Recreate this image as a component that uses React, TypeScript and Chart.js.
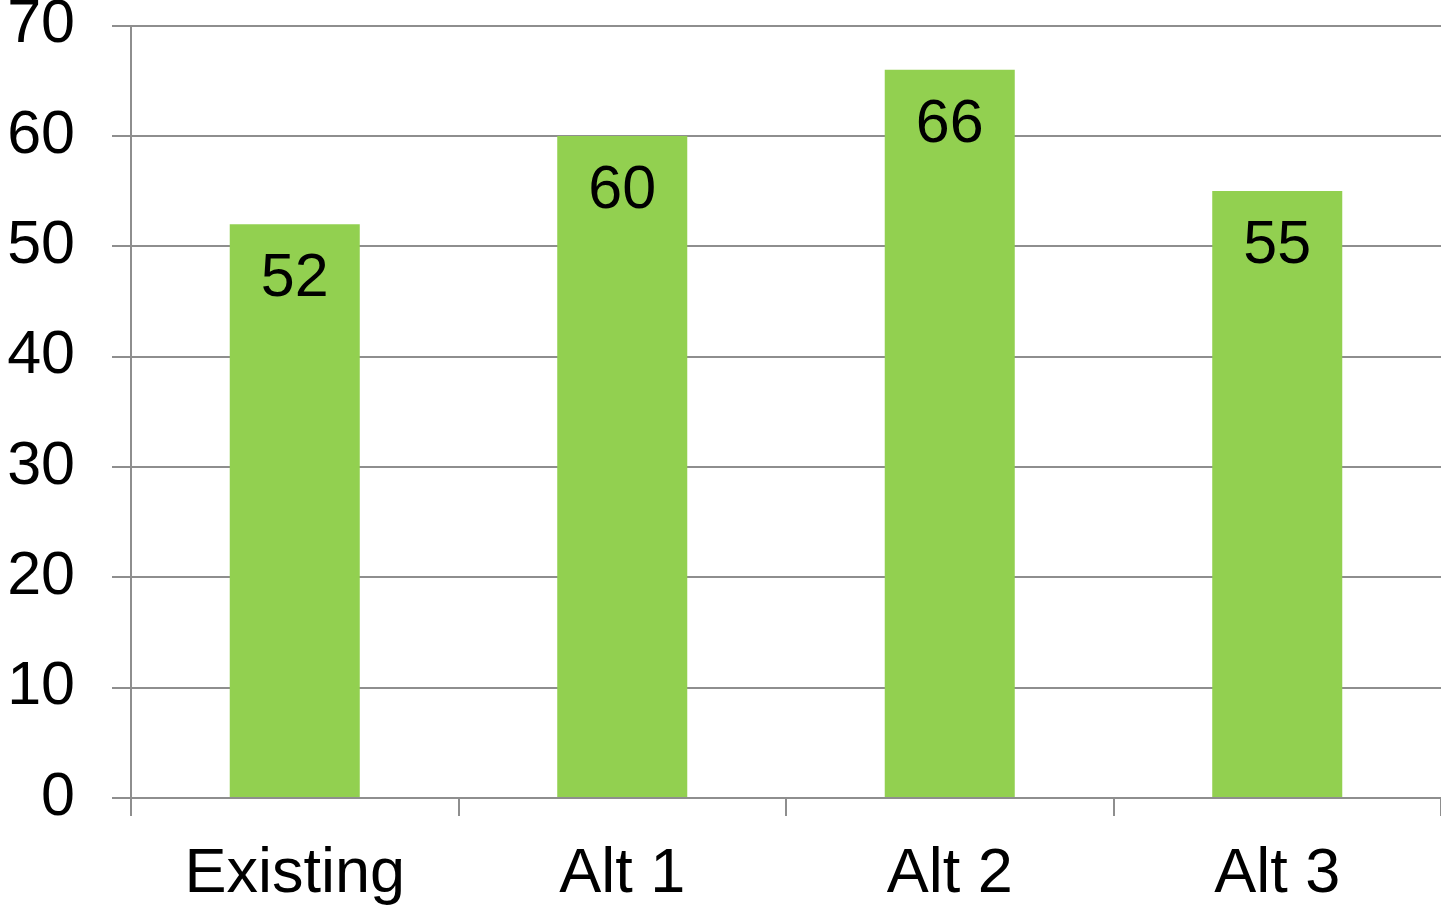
import React, { useEffect, useRef } from "react";
import { Chart, registerables } from "chart.js";

Chart.register(...registerables);

const categories = ["Existing", "Alt 1", "Alt 2", "Alt 3"];
const values = [52, 60, 66, 55];
const yMin = 0;
const yMax = 70;
const yStep = 10;

const FONT = "'Liberation Sans', Arial, sans-serif";
const GRID = "#8e8e8e";
const BAR = "#92D050";

const TOP_OFFSET = 48;
const W = 1441;
const H = 906 + TOP_OFFSET;

const valueLabels = {
  id: "valueLabels",
  afterDatasetsDraw(chart: any) {
    const ctx = chart.ctx;
    const meta = chart.getDatasetMeta(0);
    ctx.save();
    ctx.font = `61px ${FONT}`;
    ctx.fillStyle = "#000";
    ctx.textAlign = "center";
    ctx.textBaseline = "alphabetic";
    meta.data.forEach((el: any, i: number) => {
      ctx.fillText(String(values[i]), el.x, el.y + 72);
    });
    ctx.restore();
  },
};

export default function App() {
  const ref = useRef<HTMLCanvasElement>(null);
  useEffect(() => {
    if (!ref.current) return;
    const chart = new Chart(ref.current, {
      type: "bar",
      data: {
        labels: categories,
        datasets: [
          {
            data: values,
            backgroundColor: BAR,
            borderWidth: 0,
            categoryPercentage: 0.397,
            barPercentage: 1,
          },
        ],
      },
      options: {
        responsive: false,
        animation: false,
        layout: { padding: { left: 0, right: 0, top: 0, bottom: 0 } },
        plugins: {
          legend: { display: false },
          tooltip: { enabled: false },
          title: { display: false },
        },
        scales: {
          x: {
            grid: {
              offset: true,
              drawOnChartArea: false,
              drawTicks: true,
              tickLength: 18,
              color: GRID,
              lineWidth: 2,
            },
            border: { display: true, color: GRID, width: 2 },
            ticks: {
              color: "#000",
              font: { family: FONT, size: 63 },
              padding: 21,
              maxRotation: 0,
              autoSkip: false,
            },
            afterFit: (scale: any) => {
              scale.height = 108;
            },
          },
          y: {
            min: yMin,
            max: yMax,
            grid: {
              color: GRID,
              lineWidth: 2,
              drawTicks: true,
              tickLength: 19,
            },
            border: { display: true, color: GRID, width: 2 },
            ticks: {
              stepSize: yStep,
              color: "#000",
              font: { family: FONT, size: 61 },
              padding: 37,
            },
            afterFit: (scale: any) => {
              scale.width = 131;
            },
          },
        },
      },
      plugins: [valueLabels],
    });
    return () => chart.destroy();
  }, []);
  return (
    <div style={{ position: "fixed", left: 0, top: -TOP_OFFSET, width: W, height: H, background: "#fff" }}>
      <canvas ref={ref} width={W} height={H} style={{ display: "block", width: W, height: H }} />
    </div>
  );
}
